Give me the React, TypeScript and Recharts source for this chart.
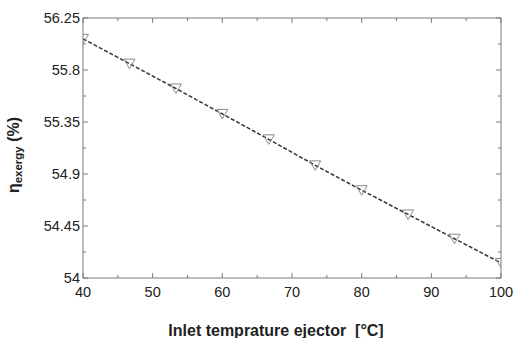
import React from "react";
import { LineChart, Line, XAxis, YAxis } from "recharts";

const temps = [40, 46.67, 53.33, 60, 66.67, 73.33, 80, 86.67, 93.33, 100];
const exergy = [56.07, 55.855, 55.64, 55.42, 55.2, 54.975, 54.76, 54.55, 54.34, 54.13];

const xMajor = [40, 50, 60, 70, 80, 90, 100];
const xMinor = [45, 55, 65, 75, 85, 95];
const yMajor = [54, 54.45, 54.9, 55.35, 55.8, 56.25];
const yMinor = [54.225, 54.675, 55.125, 55.575, 56.025];

const data = temps.map((t, i) => ({ t, e: exergy[i] }));
const xTicks = [...xMajor, ...xMinor].sort((a, b) => a - b);
const yTicks = [...yMajor, ...yMinor].sort((a, b) => a - b);

const AXIS = "#7a7a7a";
const TEXT = "#222";
const FONT = "'Liberation Sans', Arial, sans-serif";

const XTick = (props: any) => {
  const { x, y, payload, side } = props;
  const major = xMajor.includes(payload.value);
  const len = major ? 5 : 3;
  const dir = side === "top" ? 1 : -1;
  return (
    <g>
      <line x1={x} y1={y} x2={x} y2={y + dir * len} stroke={AXIS} strokeWidth={1} />
      {major && side !== "top" && (
        <text x={x} y={y + 19} textAnchor="middle" fontSize={14.5} fontFamily={FONT} fill={TEXT}>
          {payload.value}
        </text>
      )}
    </g>
  );
};

const YTick = (props: any) => {
  const { x, y, payload, side } = props;
  const major = yMajor.includes(payload.value);
  const len = major ? 5 : 3;
  const dir = side === "right" ? -1 : 1;
  return (
    <g>
      <line x1={x} y1={y} x2={x + dir * len} y2={y} stroke={AXIS} strokeWidth={1} />
      {major && side !== "right" && (
        <text x={x - 3} y={y} dy="0.35em" textAnchor="end" fontSize={14.5} fontFamily={FONT} fill={TEXT}>
          {payload.value}
        </text>
      )}
    </g>
  );
};

const Triangle = (props: any) => {
  const { cx, cy } = props;
  if (cx == null || cy == null) return null;
  return (
    <polygon
      points={`${cx - 5.5},${cy - 4.5} ${cx + 5.5},${cy - 4.5} ${cx},${cy + 5}`}
      fill="none"
      stroke="#8a8a8a"
      strokeWidth={1}
    />
  );
};

const YLabel = () => (
  <text
    transform="translate(19,155) rotate(-90)"
    textAnchor="middle"
    fontFamily={FONT}
    fontWeight="bold"
    fontSize={16}
    fill={TEXT}
  >
    <tspan>η</tspan>
    <tspan fontSize={11.5} dy={3}>exergy</tspan>
    <tspan dy={-3}> (%)</tspan>
  </text>
);

const XLabel = () => (
  <text
    x={276}
    y={336}
    textAnchor="middle"
    fontFamily={FONT}
    fontWeight="bold"
    fontSize={16}
    fill={TEXT}
    style={{ whiteSpace: "pre" }}
  >
    {"Inlet temprature ejector  [°C]"}
  </text>
);

export default function App() {
  return (
    <div style={{ position: "absolute", left: 0, top: 0, background: "#fff" }}>
      <LineChart width={515} height={338} data={data} margin={{ top: 17, right: 13, bottom: 30, left: 0 }}>
        <XAxis
          dataKey="t"
          type="number"
          domain={[40, 100]}
          allowDataOverflow
          ticks={xTicks}
          interval={0}
          tickSize={0}
          tickMargin={0}
          height={30}
          stroke={AXIS}
          tick={<XTick side="bottom" />}
          label={<XLabel />}
        />
        <XAxis
          xAxisId="top"
          dataKey="t"
          orientation="top"
          type="number"
          domain={[40, 100]}
          allowDataOverflow
          ticks={xTicks}
          interval={0}
          tickSize={0}
          tickMargin={0}
          height={1}
          stroke={AXIS}
          tick={<XTick side="top" />}
        />
        <YAxis
          type="number"
          domain={[54, 56.25]}
          allowDataOverflow
          ticks={yTicks}
          interval={0}
          tickSize={0}
          tickMargin={0}
          width={83}
          stroke={AXIS}
          tick={<YTick side="left" />}
          label={<YLabel />}
        />
        <YAxis
          yAxisId="right"
          orientation="right"
          type="number"
          domain={[54, 56.25]}
          allowDataOverflow
          ticks={yTicks}
          interval={0}
          tickSize={0}
          tickMargin={0}
          width={1}
          stroke={AXIS}
          tick={<YTick side="right" />}
        />
        <Line
          xAxisId="top"
          yAxisId="right"
          type="linear"
          dataKey="e"
          stroke="none"
          dot={false}
          activeDot={false}
          isAnimationActive={false}
        />
        <Line
          type="linear"
          dataKey="e"
          stroke="#333"
          strokeWidth={1.5}
          strokeDasharray="4 2"
          dot={<Triangle />}
          isAnimationActive={false}
        />
      </LineChart>
    </div>
  );
}
